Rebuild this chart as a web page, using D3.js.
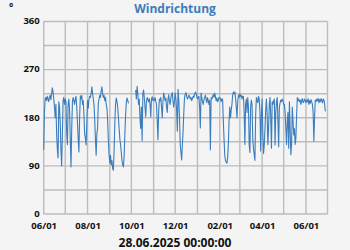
<!DOCTYPE html>
<html>
<head>
<meta charset="utf-8">
<script src="https://cdn.jsdelivr.net/npm/d3@7"></script>
<style>
  body { margin: 0; background: #f4f4f4; }
  svg { display: block; font-family: "Open Sans", "Noto Sans", sans-serif; }
</style>
</head>
<body>
<div id="chart"></div>
<script>

// daily wind direction (degrees), one array per month, null = no data
var startDate = "2024-06-01";
var jun24 = [120, 190, 215, 218, 212, 220, 215, 210, 218, 222, 214, 225, 236, 228, 215, 200, 180, 205, 150, 120, 105, 210, 200, 170, 120, 90, 150, 212, 218, 205];
var jul24 = [215, 210, 150, 130, 205, 215, 195, 140, 88, 160, 210, 218, 212, 205, 215, 220, 200, 170, 140, 116, 180, 221, 215, 222, 205, 212, 185, 150, 142, 129, 170];
var aug24 = [212, 198, 215, 220, 218, 225, 238, 226, 215, 205, 176, 140, 110, 150, 160, 207, 215, 222, 218, 230, 238, 225, 218, 222, 212, 218, 205, 198, 175, 138, 110];
var sep24 = [95, 110, 92, 100, 85, 82, 120, 170, 205, 217, 210, 200, 180, 160, 140, 130, 115, 100, 92, 88, 110, 150, 185, 210, 217, 212, 207, null, null, null];
var oct24 = [null, null, null, null, null, null, 232, 215, 239, 225, 205, 215, 180, 160, 200, 137, 225, 232, 218, 200, 182, 210, 218, 214, 210, 216, 205, 182, 215, 219, 212];
var nov24 = [215, 212, 218, 210, 205, 175, 139, 190, 215, 212, 218, 200, 180, 210, 226, 220, 212, 217, 200, 190, 215, 223, 210, 205, 217, 222, 227, 210, 200, 212];
var dec24 = [226, 215, 195, 155, 233, 213, 180, 130, 115, 101, 130, 155, 190, 218, 224, 227, 220, 215, 218, 222, 220, 215, 218, 212, 216, 220, 218, 224, 228, 226, 220];
var jan25 = [215, 218, 220, 200, 161, 226, 218, 210, 205, 213, 218, 222, 215, 208, 218, 212, 205, 213, 120, 218, 215, 220, 223, 218, 226, 220, 212, 217, 210, 213, 218];
var feb25 = [217, 217, 210, 215, 215, 174, 140, 110, 100, 97, 95, 105, 130, 175, 200, 180, 195, 205, 222, 228, 225, 228, 217, 200, 180, 210, 222, 218];
var mar25 = [225, 220, 222, 215, 220, 220, 190, 130, 205, 215, 190, 218, 200, 130, 115, 200, 213, 205, 140, 122, 111, 100, 185, 218, 212, 208, 220, 215, 190, 118, 185];
var apr25 = [215, 150, 113, 130, 160, 195, 215, 186, 130, 161, 205, 218, 180, 123, 210, 205, 212, 215, 129, 190, 210, 218, 175, 126, 200, 208, 213, 210, 215, 212];
var may25 = [205, 205, 190, 161, 130, 174, 190, 123, 210, 160, 111, 130, 200, 175, 148, 160, 130, 142, 185, 218, 212, 215, 210, 213, 205, 212, 216, 208, 210, 215, 212];
var jun25 = [208, 213, 210, 216, 205, 212, 207, 214, 210, 205, 190, 136, 180, 213, 210, 215, 212, 216, 208, 214, 210, 216, 212, 208, 215, 213, 205, 192];

var yTicks = [0, 90, 180, 270, 360];
var titleText = "Windrichtung";
var unitText = "°";
var stampText = "28.06.2025 00:00:00";

var width = 350, height = 250;
var margin = {top: 21.5, right: 22.5, bottom: 36, left: 43.7};

var values = [].concat(jun24, jul24, aug24, sep24, oct24, nov24, dec24,
                       jan25, feb25, mar25, apr25, may25, jun25);
var t0 = new Date(startDate + "T00:00:00Z");
var data = values.map(function(v, i) {
  return {date: d3.utcDay.offset(t0, i), value: v};
});

var svg = d3.select("#chart").append("svg")
  .attr("width", width)
  .attr("height", height);

var x = d3.scaleUtc()
  .domain([t0, new Date("2025-07-01T00:00:00Z")])
  .range([margin.left, width - margin.right]);

var y = d3.scaleLinear()
  .domain([0, 360])
  .range([height - margin.bottom, margin.top]);

// grid: one vertical line per month, horizontal every 45 degrees
var grid = svg.append("g")
  .attr("stroke", "#bcbcbc")
  .attr("stroke-width", 1.4);

grid.selectAll(".vline")
  .data(d3.utcMonth.range(x.domain()[0], d3.utcDay.offset(x.domain()[1], 1)))
  .enter().append("line")
    .attr("x1", function(d) { return x(d); })
    .attr("x2", function(d) { return x(d); })
    .attr("y1", y(360))
    .attr("y2", y(0));

grid.selectAll(".hline")
  .data(d3.range(0, 361, 45))
  .enter().append("line")
    .attr("x1", x.range()[0])
    .attr("x2", x.range()[1])
    .attr("y1", function(d) { return y(d); })
    .attr("y2", function(d) { return y(d); });

// y labels
svg.append("g")
  .selectAll("text")
  .data(yTicks)
  .enter().append("text")
    .attr("x", margin.left - 4)
    .attr("y", function(d) { return y(d); })
    .attr("dy", "0.3em")
    .attr("text-anchor", "end")
    .style("font-size", "9.5px")
    .style("font-weight", "bold")
    .attr("fill", "#111")
    .text(function(d) { return d; });

// x labels every second month, starting in june
var xAxis = d3.axisBottom(x)
  .tickValues(d3.utcMonth.range(t0, new Date("2025-06-02T00:00:00Z"), 2))
  .tickFormat(d3.utcFormat("%m/%d"))
  .tickSize(0)
  .tickPadding(8);

svg.append("g")
  .attr("transform", "translate(0," + y(0) + ")")
  .call(xAxis)
  .call(function(g) { g.select(".domain").remove(); })
  .selectAll("text")
    .style("font-family", "\"Open Sans\", \"Noto Sans\", sans-serif")
    .style("font-size", "9.5px")
    .style("font-weight", "bold")
    .attr("fill", "#111");

// the wind direction line
var line = d3.line()
  .defined(function(d) { return d.value !== null; })
  .x(function(d) { return x(d.date); })
  .y(function(d) { return y(d.value); });

svg.append("path")
  .datum(data)
  .attr("d", line)
  .attr("fill", "none")
  .attr("stroke", "#3b7dbd")
  .attr("stroke-width", 1.1)
  .attr("stroke-linejoin", "round");

// title, unit and timestamp
svg.append("text")
  .attr("x", 175)
  .attr("y", 13)
  .attr("text-anchor", "middle")
  .style("font-size", "12px")
  .style("font-weight", "bold")
  .attr("fill", "#3c7dbc")
  .text(titleText);

svg.append("text")
  .attr("x", 9)
  .attr("y", 11)
  .style("font-size", "10px")
  .style("font-weight", "bold")
  .attr("fill", "#111")
  .text(unitText);

svg.append("text")
  .attr("x", 175)
  .attr("y", 247)
  .attr("text-anchor", "middle")
  .style("font-size", "12px")
  .style("font-weight", "bold")
  .attr("fill", "#111")
  .text(stampText);

</script>
</body>
</html>
